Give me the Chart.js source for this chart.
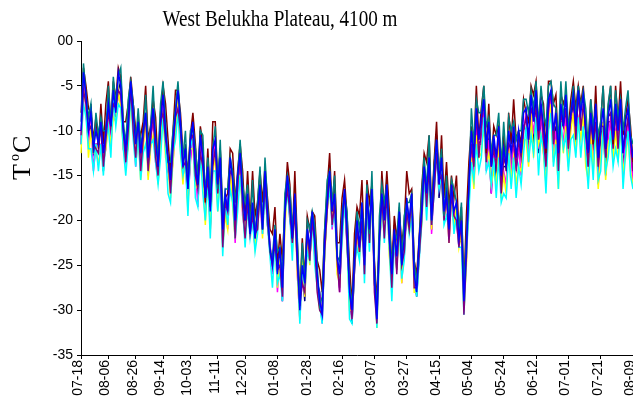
<!DOCTYPE html>
<html>
<head>
<meta charset="utf-8">
<script src="https://cdn.jsdelivr.net/npm/chart.js@4/dist/chart.umd.min.js"></script>
<style>
  body { margin: 0; background: #fff; }
  canvas { display: block; }
</style>
</head>
<body>
<canvas id="chart" width="633" height="396"></canvas>
<script>
const tickLabels = ["07-18", "08-06", "08-26", "09-14", "10-03", "11-11", "12-20", "01-08", "01-28",
  "02-16", "03-07", "03-27", "04-15", "05-04", "05-24", "06-12", "07-01", "07-21", "08-09"];
// number of samples between two labelled dates
const samplesPerInterval = [11, 11, 11, 11, 11, 11, 13, 13, 13, 13, 13, 13, 13, 13, 13, 13, 13, 13];

const blueSeries = [
  -10, -3.5, -6, -10, -8, -12, -10, -11.5, -9, -12.5, -10,
  -7, -9.5, -5.5, -8, -3.5, -5, -10, -12, -9, -4.5, -8,
  -11.5, -9, -12.5, -10, -8, -13, -10, -7.5, -11, -14, -9,
  -6, -10, -13, -15.5, -11, -8, -5.5, -9, -14, -12, -16.5,
  -11, -9, -14, -16, -10.5, -13, -17.5, -14, -19, -12, -11,
  -16, -13, -21, -17, -19, -13, -15.5, -20, -15, -12.5, -17,
  -20, -17, -21.5, -18, -22, -19, -16, -21, -14.5, -19, -23,
  -25, -21, -26, -23, -27.5, -19, -15, -18, -22, -17, -24,
  -30, -25, -27, -21, -23, -19, -22, -26, -29, -30.5, -22,
  -18, -14.5, -19, -17, -24, -26, -20, -16.5, -21, -28, -30,
  -24, -20, -23, -18, -25, -17, -21, -16.5, -26, -31, -22,
  -17, -20, -16, -22, -26, -21, -24, -19, -25, -22, -18,
  -20, -17, -26, -28, -22, -19, -14, -17, -13, -20, -15,
  -11, -16, -13, -19, -17, -21, -16, -19, -18, -22, -20,
  -29, -23, -16, -10, -13, -7.5, -11, -8.5, -6.5, -12, -9,
  -14, -10.5, -13, -9.5, -15, -12, -14, -10, -12.5, -9.5, -13,
  -10, -12.5, -8, -7.5, -11, -6, -9, -5.5, -10, -7, -9.5,
  -12, -6.5, -5.5, -10, -8, -12.5, -7, -9.5, -6, -11, -8,
  -6, -9.5, -5.5, -8, -6, -10, -12.5, -8, -11, -7, -13,
  -10, -7.5, -12, -8.5, -6.5, -11, -7, -10, -6.5, -12.5, -9,
  -7.5, -11, -13
];

const tealSeries = [
  -9, -2.5, -6, -8.5, -7, -12.5, -8, -10.5, -8.5, -10, -10,
  -5, -9.5, -4, -7, -4, -3, -9, -11.5, -6.5, -4.5, -7,
  -11.5, -7.5, -11.5, -10.5, -6, -12, -9.5, -5, -11, -13, -7,
  -4.5, -9, -13.5, -13.5, -10, -7.5, -4.5, -9, -13, -10, -16.5,
  -10, -9.5, -12, -15, -10, -10.5, -17.5, -13, -17, -12, -9.5,
  -16.5, -11, -20, -16.5, -16.5, -13, -14.5, -18, -15, -11, -16,
  -18, -16, -21, -15.5, -22, -18, -14, -21, -13, -18, -23.5,
  -24, -20.5, -23.5, -23, -26.5, -17, -15, -16.5, -21, -17.5, -22,
  -29.5, -22.5, -27, -20, -21, -19, -20.5, -25, -29.5, -28.5, -21,
  -15.5, -14.5, -18, -15, -24, -24.5, -19, -17, -19, -27, -29.5,
  -24, -19, -21, -18, -23.5, -16, -21.5, -14.5, -25, -30.5, -19.5,
  -16, -18, -16, -20.5, -25, -21.5, -22, -18, -24.5, -19.5, -18,
  -18, -17, -24.5, -27, -22.5, -17, -13, -16.5, -10.5, -20, -14,
  -11, -14.5, -12, -19.5, -15, -20, -15.5, -16.5, -18, -21, -18,
  -27.5, -22, -16.5, -7.5, -11.5, -6.5, -8, -8, -5, -9.5, -8.5,
  -12.5, -10.5, -10.5, -8, -14, -9, -13.5, -8.5, -10, -9, -11,
  -10, -10, -6.5, -6.5, -8, -5.5, -7.5, -4.5, -9.5, -5, -8,
  -9.5, -5, -4.5, -7, -7.5, -11, -4.5, -9, -4.5, -9.5, -8,
  -5, -8.5, -5, -7.5, -5.5, -7.5, -12, -6.5, -9.5, -7.5, -10.5,
  -9, -5, -11.5, -7, -5, -10.5, -5.5, -8.5, -6.5, -10, -7.5,
  -5.5, -10.5, -11.5
];

const maroonSeries = [
  -8, -3, -5, -7.5, -8, -11, -8.5, -12, -7, -11.5, -7,
  -4.5, -9.5, -4.5, -6.5, -3, -4, -9, -9, -7, -4, -7,
  -10, -9.5, -10.5, -9, -5, -11, -9.5, -6.5, -8.5, -14, -8,
  -5, -7, -11, -15, -10, -5.5, -5.5, -8, -12.5, -12.5, -14.5,
  -10.5, -8, -11.5, -16, -9.5, -11.5, -18, -12, -18, -9, -9,
  -16, -12, -19.5, -17.5, -17, -12, -12.5, -18, -14.5, -11.5, -14.5,
  -20, -14.5, -20, -14.5, -19.5, -18, -14.5, -18, -14, -17.5, -21,
  -21.5, -18.5, -25, -21.5, -24.5, -18.5, -13.5, -16, -22, -14.5, -22.5,
  -28.5, -22, -26.5, -19.5, -21, -19, -19.5, -24.5, -25.5, -28, -21,
  -16.5, -12.5, -19, -14.5, -22.5, -22.5, -17.5, -15.5, -19.5, -25, -29.5,
  -21.5, -18.5, -19.5, -15.5, -24, -15.5, -18, -16, -24.5, -29, -22,
  -14.5, -19, -14.5, -19, -25.5, -19.5, -22, -19, -22.5, -20.5, -14.5,
  -17, -16.5, -24.5, -26, -22, -16.5, -12.5, -13.5, -10.5, -19, -13.5,
  -9, -16, -10.5, -17.5, -13.5, -18.5, -15, -17.5, -15, -21.5, -18.5,
  -27.5, -19.5, -13.5, -9.5, -12, -5, -11, -7.5, -5, -12.5, -7,
  -13.5, -9.5, -10.5, -9.5, -14, -10.5, -14.5, -8, -11.5, -6.5, -11,
  -10, -11.5, -6.5, -8, -9, -5, -6, -4.5, -9.5, -6, -7,
  -12.5, -4.5, -4.5, -7, -6, -12, -6, -7, -6, -10, -6.5,
  -4.5, -7.5, -5, -7, -5, -10, -11.5, -6.5, -11.5, -5, -12,
  -9, -5, -12, -7.5, -5, -11.5, -5, -9, -4.5, -10.5, -8.5,
  -6.5, -9.5, -13.5
];

const navySeries = [
  -11.5, -4, -5.5, -11, -7, -12.5, -11.5, -11.5, -9.5, -14.5, -9.5,
  -7.5, -11, -5.5, -8.5, -5.5, -4.5, -11.5, -12.5, -8.5, -5.5, -7,
  -11, -10.5, -13, -9.5, -9, -12, -10.5, -9, -11, -14.5, -11,
  -5, -10.5, -14.5, -15.5, -11.5, -10, -5, -10.5, -14.5, -11.5, -17.5,
  -13, -8.5, -15.5, -16.5, -10, -14, -16.5, -14.5, -20.5, -12, -11.5,
  -17, -12, -21.5, -18.5, -19, -13.5, -17.5, -19.5, -16.5, -13, -16.5,
  -20.5, -19, -21, -19.5, -22.5, -18.5, -17, -20, -15, -20.5, -23,
  -24.5, -22, -25, -23.5, -29, -19, -15.5, -20, -21.5, -18.5, -24.5,
  -30, -25.5, -29, -20.5, -24.5, -19.5, -21.5, -27, -28, -31, -23.5,
  -18.5, -14, -20, -16, -24.5, -27.5, -20, -17, -23, -27.5, -31.5,
  -25.5, -20, -23.5, -20, -24.5, -18.5, -21.5, -16, -27, -30, -22.5,
  -18.5, -20.5, -15.5, -23, -25, -21.5, -25.5, -19, -25.5, -24, -17.5,
  -20.5, -18.5, -26, -28.5, -24, -18.5, -15.5, -17.5, -12.5, -21, -14,
  -10.5, -17.5, -13.5, -18.5, -18, -20, -16.5, -20.5, -18, -22.5, -22,
  -28, -23.5, -17.5, -11, -14.5, -10.5, -11.5, -11, -8, -12.5, -11,
  -17, -11, -15.5, -11, -15.5, -14, -14, -11.5, -15, -10.5, -14.5,
  -12, -12.5, -9.5, -10, -12, -7.5, -12, -6, -12.5, -8.5, -10,
  -13.5, -9.5, -6, -12.5, -9.5, -13, -9, -9.5, -7.5, -13.5, -9,
  -6.5, -11.5, -5.5, -9.5, -8.5, -11, -14, -11, -11.5, -9.5, -14.5,
  -11, -9, -15, -9, -9, -12.5, -7.5, -12, -6.5, -14, -11.5,
  -9, -11.5, -15
];

const purpleSeries = [
  -10.5, -5.5, -7, -10, -9.5, -11.5, -12, -12.5, -9, -14, -11,
  -8, -9.5, -7, -7.5, -5.5, -6, -10, -13.5, -10, -5, -10,
  -13, -8.5, -14.5, -11, -8, -14.5, -11, -8, -13, -15, -9,
  -8, -11, -13, -17, -12, -8.5, -7.5, -10, -14, -13.5, -16,
  -11, -10.5, -15, -16.5, -12.5, -14, -17.5, -15.5, -18.5, -14, -12,
  -17, -13.5, -23, -18, -19, -14.5, -15, -22, -16, -12.5, -18.5,
  -22, -18, -21.5, -19.5, -21.5, -21, -17, -21, -16, -20, -23.5,
  -25, -22.5, -25.5, -25, -28.5, -19, -16.5, -19, -22.5, -19, -25,
  -29.5, -27, -28, -21, -24.5, -20, -22.5, -28, -30, -30.5, -23.5,
  -19, -14.5, -20.5, -18, -24.5, -28, -21, -16.5, -22.5, -27.5, -31,
  -25.5, -21, -23.5, -20, -26, -17, -22.5, -16, -28, -31.5, -22,
  -17.5, -22, -17, -22, -27.5, -20.5, -26, -20, -25, -23.5, -19,
  -21, -17, -27.5, -27.5, -24, -20, -14, -18.5, -14, -20.5, -17,
  -12.5, -15.5, -15, -20, -17, -22.5, -17, -19.5, -20, -23, -20,
  -30.5, -24, -16, -11.5, -14, -8, -13, -9.5, -6.5, -13.5, -8.5,
  -14, -12, -14, -10, -17, -13, -14, -11.5, -12, -11.5, -14,
  -11, -13, -10, -8.5, -11, -7.5, -8.5, -7.5, -11, -7, -11,
  -14, -7.5, -5.5, -11.5, -7.5, -14.5, -8, -9.5, -7.5, -12, -8.5,
  -6, -11, -5, -10, -7, -10, -14, -9, -11.5, -9, -14,
  -9.5, -9.5, -13, -8.5, -8, -12, -7.5, -12, -7.5, -12.5, -10.5,
  -8.5, -11, -14.5
];

const magentaSeries = [
  -11.5, -3.5, -8, -11.5, -8.5, -14.5, -11.5, -11.5, -11.5, -13.5, -12,
  -7.5, -12, -7, -8, -6, -6, -12, -13.5, -9, -6.5, -9.5,
  -14, -10, -14.5, -11.5, -8, -15, -11.5, -8, -13.5, -15.5, -9,
  -6, -12, -14.5, -16, -13.5, -9.5, -5.5, -11.5, -15, -14, -18,
  -13.5, -10.5, -14, -18.5, -11.5, -15, -19, -14, -21, -13.5, -11.5,
  -17, -15, -22.5, -17, -21, -14.5, -16, -22.5, -16.5, -12.5, -19.5,
  -21.5, -18, -21.5, -20, -23, -18.5, -18, -21.5, -16, -20, -22.5,
  -26, -20.5, -28, -23.5, -29, -20, -14.5, -19.5, -23, -17, -26,
  -31, -26, -26.5, -22.5, -24, -19, -24, -27, -28.5, -31.5, -22.5,
  -19, -14.5, -21, -18, -23.5, -28, -20.5, -18, -22, -27.5, -31,
  -23.5, -22, -23.5, -19.5, -26, -16.5, -22.5, -17.5, -26, -31.5, -23,
  -18, -19.5, -17.5, -23, -26, -23, -25, -18.5, -27, -22.5, -19.5,
  -20, -19, -27, -27.5, -24, -19.5, -15.5, -18, -12.5, -21.5, -16,
  -13, -16.5, -14.5, -20, -16.5, -22.5, -17, -19, -20, -23, -19.5,
  -28.5, -24.5, -17, -11, -16, -9.5, -11.5, -11.5, -8, -14.5, -11,
  -17, -12.5, -13.5, -12.5, -16.5, -14.5, -16, -10.5, -15, -11.5, -14,
  -11.5, -15, -10, -8, -13.5, -8, -10, -8.5, -12, -7.5, -12.5,
  -14.5, -8.5, -6.5, -13, -10, -13, -10, -11, -8.5, -13, -8.5,
  -8, -10, -8.5, -9.5, -8.5, -12, -13, -10.5, -13, -8, -16,
  -12.5, -9.5, -12.5, -11, -8.5, -12, -10, -12, -7, -15.5, -10.5,
  -9.5, -12, -16
];

const yellowSeries = [
  -12.5, -5.5, -7, -13, -10, -12.5, -12.5, -13.5, -12, -13.5, -12,
  -9.5, -11.5, -8.5, -9, -5.5, -7.5, -12, -13, -12, -6.5, -8.5,
  -13.5, -10, -15.5, -12, -8.5, -15.5, -12, -10.5, -12, -16, -11.5,
  -8, -13, -14, -17.5, -13.5, -10, -6.5, -12, -16, -12.5, -19,
  -12, -12, -16, -16.5, -13, -15, -20.5, -15, -21, -14.5, -13,
  -19, -14, -23, -19.5, -21, -14, -18.5, -22, -15.5, -15, -19,
  -22, -18, -21, -19.5, -23, -21, -16, -22, -16, -20, -23,
  -25, -22, -27.5, -24, -27.5, -21, -16, -17.5, -23.5, -18, -26,
  -31, -24.5, -28.5, -22, -25, -19, -23, -27.5, -30, -30.5, -24,
  -19, -16, -20, -17, -26, -27, -19.5, -18, -22, -30, -30,
  -23.5, -21.5, -24, -20, -25, -18, -22.5, -17.5, -26, -32, -23,
  -18.5, -21, -16, -24, -27, -20.5, -25.5, -20, -27, -22, -19,
  -21.5, -18, -28, -28, -23, -20.5, -15, -17, -15, -21, -14.5,
  -12, -16, -15, -20, -16.5, -22.5, -17, -21, -18, -23, -21.5,
  -30, -25, -16, -13, -16.5, -10.5, -13, -12.5, -9.5, -13.5, -12.5,
  -16, -14.5, -16, -11, -17.5, -15, -17, -12, -15.5, -13, -16,
  -14, -14.5, -11, -11, -14, -8, -13, -8.5, -11.5, -10.5, -12.5,
  -16, -9.5, -7, -13.5, -11, -16.5, -9, -12.5, -9.5, -14, -10,
  -8, -12.5, -9, -11, -8, -14, -15.5, -9.5, -14.5, -10, -16.5,
  -13, -9, -15.5, -11.5, -10.5, -13, -10, -13.5, -9.5, -14.5, -13,
  -10.5, -14.5, -16
];

const cyanSeries = [
  -11.5, -7, -8.5, -12, -12, -14.5, -11.5, -14.5, -11.5, -15, -11,
  -9.5, -13, -6.5, -9.5, -7, -7.5, -12, -15, -11.5, -6, -11,
  -14, -10.5, -15.5, -12.5, -11.5, -14, -11.5, -11, -13.5, -16, -13,
  -8.5, -12, -17, -18, -12.5, -11, -8, -12.5, -15, -13.5, -19.5,
  -12, -10.5, -17.5, -18.5, -12.5, -17, -20, -15.5, -22, -14.5, -14.5,
  -19, -15.5, -24, -18, -20.5, -16.5, -18, -22, -19, -15, -18.5,
  -23, -18.5, -22, -20, -23.5, -21.5, -16, -21.5, -17, -20.5, -24,
  -27.5, -22.5, -27, -26, -29, -19.5, -17, -19.5, -24.5, -17, -24.5,
  -31.5, -25, -27.5, -23.5, -24.5, -20, -25, -27.5, -29.5, -31.5, -23.5,
  -18.5, -16.5, -20.5, -19.5, -24, -26.5, -22.5, -18, -22, -31, -31.5,
  -25, -23, -24.5, -18.5, -27, -18.5, -23.5, -16.5, -26.5, -32, -23.5,
  -17.5, -22.5, -17.5, -23, -29, -22.5, -24.5, -21, -26.5, -24.5, -18,
  -21.5, -19.5, -26, -28.5, -24.5, -20.5, -15, -20, -14.5, -20.5, -17,
  -12.5, -16.5, -15, -20.5, -19.5, -21, -16.5, -21.5, -19.5, -23, -23,
  -30.5, -24, -19, -13.5, -15.5, -11.5, -14.5, -13, -8.5, -14.5, -13.5,
  -16, -13, -17.5, -13, -18, -17, -17.5, -12.5, -16.5, -13, -17.5,
  -14, -16, -12.5, -9.5, -13.5, -10.5, -12.5, -8.5, -15, -10.5, -12,
  -17, -10, -8, -14, -11.5, -16.5, -9, -12, -10.5, -14.5, -11,
  -10.5, -13, -8.5, -13, -9.5, -12.5, -16.5, -11.5, -15.5, -9, -15.5,
  -14.5, -9.5, -14.5, -13, -10, -14, -12, -13.5, -9, -16.5, -12.5,
  -10, -15, -16.5
];

// category axis: a date label at the start of each interval, blanks in between
const categories = [];
samplesPerInterval.forEach((count, k) => {
  categories.push(tickLabels[k]);
  for (let j = 1; j < count; j++) categories.push("");
});
categories.push(tickLabels[tickLabels.length - 1]);

// first dataset is drawn on top
const seriesList = [
  { data: blueSeries, color: "#0000ff" },
  { data: tealSeries, color: "#008080" },
  { data: maroonSeries, color: "#800000" },
  { data: purpleSeries, color: "#800080" },
  { data: cyanSeries, color: "#00ffff" },
  { data: yellowSeries, color: "#ffff00" },
  { data: magentaSeries, color: "#ff00ff" },
  { data: navySeries, color: "#000080" },
];

const tickFont = { family: "'Liberation Sans', Arial, sans-serif", size: 14 };

const titlesPlugin = {
  id: "titles",
  afterDraw(chart) {
    const ctx = chart.ctx;
    ctx.save();
    ctx.fillStyle = "#000";
    ctx.textBaseline = "alphabetic";
    ctx.font = "23px 'Liberation Serif', 'Times New Roman', serif";
    const title = "West Belukha Plateau, 4100 m";
    const w = ctx.measureText(title).width;
    ctx.translate(280, 26);
    ctx.scale(235 / w, 1);
    ctx.textAlign = "center";
    ctx.fillText(title, 0, 0);
    ctx.restore();

    // y axis title "T oC" with raised small o
    ctx.save();
    ctx.fillStyle = "#000";
    ctx.translate(30, 180);
    ctx.rotate(-Math.PI / 2);
    ctx.textAlign = "left";
    ctx.font = "26px 'Liberation Serif', 'Times New Roman', serif";
    ctx.fillText("T", 0, 0);
    let x = ctx.measureText("T").width + 3;
    ctx.font = "14px 'Liberation Serif', 'Times New Roman', serif";
    ctx.fillText("o", x, -11);
    x += ctx.measureText("o").width + 1;
    ctx.font = "26px 'Liberation Serif', 'Times New Roman', serif";
    ctx.fillText("C", x, 0);
    ctx.restore();
  },
};

new Chart(document.getElementById("chart"), {
  type: "line",
  data: {
    labels: categories,
    datasets: seriesList.map((s) => ({
      data: s.data,
      borderColor: s.color,
      backgroundColor: s.color,
      borderWidth: 1.5,
      pointRadius: 0,
      tension: 0,
      fill: false,
    })),
  },
  options: {
    responsive: false,
    animation: false,
    layout: { padding: { top: 41, right: 0, left: 0, bottom: 0 } },
    plugins: {
      legend: { display: false },
      title: { display: false },
      tooltip: { enabled: false },
    },
    scales: {
      x: {
        type: "category",
        offset: false,
        grid: { drawOnChartArea: false, drawTicks: true, tickLength: 4, color: "#000" },
        border: { display: true, color: "#000", width: 1 },
        ticks: {
          autoSkip: false,
          minRotation: 90,
          maxRotation: 90,
          padding: 1,
          labelOffset: -3,
          color: "#000",
          font: tickFont,
          callback: (value, index) => categories[index] || null,
        },
        afterFit: (scale) => {
          scale.height = 41;
          scale.paddingLeft = 0;
          scale.paddingRight = 0;
        },
      },
      y: {
        min: -35,
        max: 0,
        grid: { drawOnChartArea: false, drawTicks: true, tickLength: 4, color: "#000" },
        border: { display: true, color: "#000", width: 1 },
        ticks: {
          stepSize: 5,
          padding: 4,
          color: "#000",
          font: tickFont,
          callback: (value) => (value === 0 ? "00" : value),
        },
        afterFit: (scale) => {
          scale.width = 81;
        },
      },
    },
  },
  plugins: [titlesPlugin],
});
</script>
</body>
</html>
